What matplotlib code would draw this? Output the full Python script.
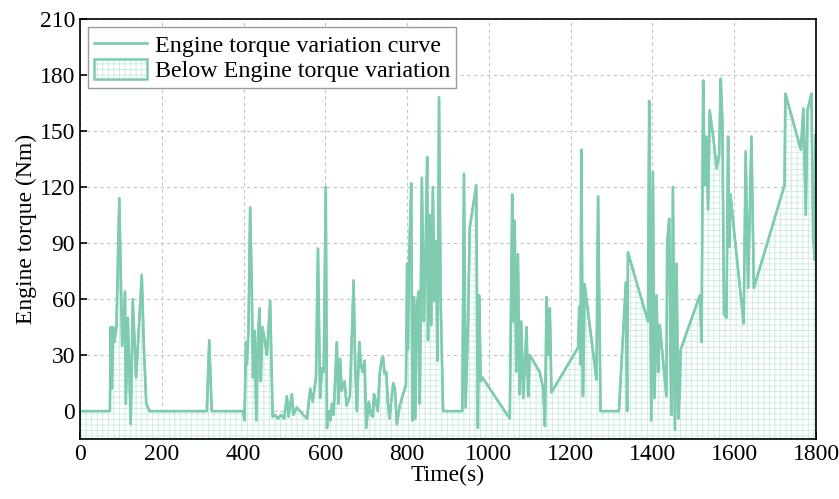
import matplotlib
matplotlib.use('Agg')
import matplotlib.pyplot as plt
from matplotlib.patches import Patch
from matplotlib.lines import Line2D
from matplotlib.legend_handler import HandlerTuple

plt.rcParams['font.family'] = ['Liberation Serif', 'DejaVu Serif']
plt.rcParams['hatch.linewidth'] = 0.6

# Time (s) and engine torque (Nm)
time_s = [
    0, 73, 75, 78, 81, 84, 89, 96, 103, 110, 112, 117, 124, 129, 137, 143, 151, 156, 162, 170,
    310, 316, 322, 399,
    402, 406, 408, 412, 416, 420, 423, 427, 431, 435, 439, 442, 446, 453, 457, 465,
    471, 477, 484, 492, 499, 506, 510, 518, 522, 530, 538, 546, 555, 563, 569, 577,
    582, 587, 592, 596, 601, 604, 608, 612, 616, 620, 628, 632, 636, 640, 647, 652,
    660, 669, 673, 677, 683, 687, 691, 696, 700, 706, 712, 716, 719, 723, 728, 733,
    738, 741, 745, 749, 753, 757, 761, 766, 770, 775, 782, 790, 797,
    800, 802, 805, 808, 810, 813, 817, 820, 824, 828, 831, 836, 841, 845, 849, 851,
    855, 859, 863, 867, 871, 874, 878, 882, 888, 935, 939, 943, 949, 953, 969, 973,
    976, 980, 984, 1051, 1057, 1060, 1063, 1067, 1071, 1075, 1079, 1084, 1092, 1096,
    1100, 1124, 1133, 1137, 1141, 1145, 1149, 1153, 1218, 1221, 1224, 1226, 1230, 1234,
    1263, 1267, 1273, 1318, 1335, 1338, 1340, 1389, 1392, 1397, 1401, 1405, 1410, 1414,
    1418, 1434, 1436, 1441, 1444, 1447, 1450, 1455, 1459, 1463, 1467, 1469,
    1516, 1520, 1524, 1528, 1532, 1536, 1540, 1548, 1557, 1563, 1567, 1571, 1575, 1581,
    1585, 1588, 1591, 1597, 1623, 1628, 1634, 1642, 1648, 1723, 1725, 1763, 1769, 1775,
    1779, 1789, 1793, 1797, 1799, 1800,
]
torque_nm = [
    0, 0, 45, 12, 45, 37, 45, 114, 35, 64, 4, 50, -7, 60, 18, 41, 73, 35, 4, 0,
    0, 38, 0, 0,
    -5, 37, 25, 43, 109, 68, 18, 43, -5, 39, 55, 16, 45, 36, 30, 59,
    -3, -2, -4, -2, -4, 8, -3, 9, -2, 2, 0, -2, -4, 12, 5, 18,
    87, 7, 23, 21, 120, -9, 0, -5, 4, -2, 37, 4, 28, 11, 16, 3,
    8, 70, 24, 0, 37, 25, 21, 27, -9, 5, -2, -3, 9, 6, 0, 20,
    28, 29, 20, 21, 4, -4, 5, 15, 12, -7, 3, 9, 14,
    79, 33, 84, 105, 122, -5, 61, -4, 57, 64, 4, 125, 48, 84, 136, 38,
    105, 46, 120, 59, 91, 27, 168, 59, 0, 0, 127, 2, 48, 98, 121, -9,
    62, 16, 18, -4, 116, 48, 102, 21, 84, 9, 48, 7, 45, 8,
    30, 21, 12, -8, 61, 30, 55, 10, 34, 56, 25, 140, 8, 68,
    17, 115, 0, 0, 69, 0, 85, 48, 166, -5, 128, 7, 62, 21,
    46, 8, 90, 103, 30, -2, 120, -10, 79, -4, 12, 33,
    62, 37, 177, 121, 147, 108, 161, 148, 130, 137, 178, 155, 52, 50,
    147, 88, 116, 102, 47, 139, 66, 147, 66, 121, 170, 140, 162, 105,
    161, 170, 93, 81, 148, 148,
]

line_color = '#7fcbad'
hatch_color = '#c9ebdf'
y_bottom = -15

fig = plt.figure(figsize=(8.39, 4.99), dpi=100)
ax = fig.add_axes([0.0954, 0.120, 0.8772, 0.842])

ax.fill_between(time_s, torque_nm, y_bottom, facecolor='white', edgecolor=hatch_color,
                hatch='+++', linewidth=0, zorder=1)
ax.fill_between(time_s, torque_nm, y_bottom, facecolor='none', edgecolor=line_color,
                linewidth=1.5, zorder=2)
ax.plot(time_s, torque_nm, color=line_color, lw=1.9, zorder=3)

ax.set_xlim(0, 1800)
ax.set_ylim(y_bottom, 210)
ax.set_xticks(range(0, 1801, 200))
ax.set_yticks(range(0, 211, 30))
ax.tick_params(direction='in', length=5, width=1.2, labelsize=17, top=False, right=False)
ax.grid(True, color='#c4c4c4', ls=(0, (3, 3)), lw=0.8, zorder=0)
ax.set_axisbelow(True)
for spine in ax.spines.values():
    spine.set_linewidth(1.2)
    spine.set_zorder(5)

ax.set_xlabel('Time(s)', fontsize=17, labelpad=0)
ax.set_ylabel('Engine torque (Nm)', fontsize=17, labelpad=2)

h_line = Line2D([], [], color=line_color, lw=1.9)
h_fill = (Patch(facecolor='white', edgecolor=hatch_color, hatch='+++', lw=0),
          Patch(facecolor='none', edgecolor=line_color, lw=1.8))
leg = ax.legend([h_line, h_fill],
                ['Engine torque variation curve', 'Below Engine torque variation'],
                handler_map={tuple: HandlerTuple(ndivide=1, pad=0)},
                loc='upper left', fontsize=17.3, fancybox=False, framealpha=1,
                edgecolor='#9a9a9a', borderpad=0.25, labelspacing=0.1,
                handlelength=2.2, handleheight=0.9, handletextpad=0.3,
                borderaxespad=0.35)
leg.get_frame().set_linewidth(1.0)

fig.savefig('out.png', dpi=100)
